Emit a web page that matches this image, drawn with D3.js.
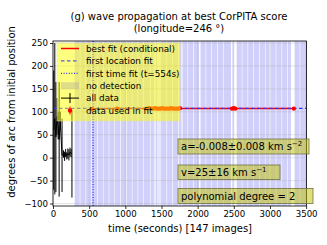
<!DOCTYPE html>
<html><head><meta charset="utf-8">
<script src="https://cdn.jsdelivr.net/npm/d3@7"></script>
<style>body{margin:0;background:#fff}svg{display:block}text{font-family:"DejaVu Sans",sans-serif}</style>
</head><body><svg id="c" width="327" height="245"></svg>
<script>
// ---- data ----
const xTicks = [0, 500, 1000, 1500, 2000, 2500, 3000, 3500];
const yTicks = [-100, -50, 0, 50, 100, 150, 200, 250];
// all data (black error bars)
const allTimes  = [10, 25, 40, 55, 70, 85, 100, 125, 145, 160, 175, 190, 205, 220, 235, 250, 262];
const allValues = [60, 85, 45, 90, 70, 40, 80, 5, 8, 3, 10, 4, 9, 6, 12, 10, 8];
const allErrors = [130, 165, 120, 40, 30, 125, 20, 80, 8, 10, 9, 8, 11, 12, 10, 9, 95];
// data used in fit (red)
const fitTimes  = [540, 890, 1310, 1335, 1360, 1385, 1410, 1435, 1460, 1485, 1510, 1535, 1560, 1585, 1610, 1635, 1660, 1685, 1710, 1735, 1755, 2475, 2500, 2520, 3330];
const fitValues = [106, 107, 107, 108, 107, 107, 108, 107, 107, 107, 108, 107, 107, 107, 107, 108, 107, 107, 107, 107, 108, 107, 108, 107, 107];
const fitErrors = [3, 3, 3, 3, 3, 3, 3, 3, 3, 3, 3, 3, 3, 3, 3, 3, 3, 3, 3, 3, 3, 3, 3, 3, 3];
// best fit curve
const curveTimes  = [540, 1000, 1500, 2000, 2500, 3000, 3330];
const curveValues = [106.6, 107.0, 107.3, 107.4, 107.4, 107.2, 107.0];
// first location fit, first time fit
const firstLocation = 107.5;
const firstTime = 554;
// no-detection intervals (seconds)
const noDetection = [[300,370],[378,450],[458,530],[538,610],[618,690],[698,770],[778,850],[858,930],[938,1010],[1018,1090],[1098,1170],[1178,1250],[1258,1340],[1355,1395],[1420,1445],[1500,1570],[1578,1650],[1658,1730],[1738,1770],[1790,1860],[1868,1940],[1948,2020],[2040,2110],[2118,2190],[2198,2270],[2278,2350],[2358,2460],[2480,2498],[2540,2610],[2618,2690],[2698,2770],[2778,2850],[2858,2930],[2938,2990],[3010,3080],[3088,3160],[3168,3240],[3248,3290],[3340,3410],[3418,3510]];
// lighter no-detection intervals (single coverage)
const noDetectionLight = [[1340,1355],[1395,1420],[1445,1500],[1770,1790],[2990,3010]];
const legendLabels = ["best fit (conditional)", "first location fit", "first time fit (t=554s)", "no detection", "all data", "data used in fit"];
const titleLines = ["(g) wave propagation at best CorPITA score", "(longitude=246 °)"];

// ---- layout ----
const svg = d3.select("#c");
const L = 53, R = 306.5, T = 41, B = 206;
const x = d3.scaleLinear().domain([0, 3505]).range([L, R]);
const y = d3.scaleLinear().domain([-105.4, 254.4]).range([B, T]);

// bands
svg.append("g").selectAll("rect").data(noDetection).join("rect")
  .attr("x", d => x(d[0])).attr("width", d => x(d[1]) - x(d[0]))
  .attr("y", T).attr("height", B - T)
  .attr("fill", "#d0d0fa");
svg.append("g").selectAll("rect").data(noDetectionLight).join("rect")
  .attr("x", d => x(d[0])).attr("width", d => x(d[1]) - x(d[0]))
  .attr("y", T).attr("height", B - T)
  .attr("fill", "#e8e8fc");

// grid
const grid = svg.append("g").attr("stroke", "#b0b0b0").attr("stroke-opacity", 0.45).attr("stroke-width", 0.8);
grid.selectAll(".gx").data(xTicks).join("line").attr("x1", d => x(d)).attr("x2", d => x(d)).attr("y1", T).attr("y2", B);
grid.selectAll(".gy").data(yTicks).join("line").attr("y1", d => y(d)).attr("y2", d => y(d)).attr("x1", L).attr("x2", R);

// first time fit
svg.append("line").attr("x1", x(firstTime)).attr("x2", x(firstTime)).attr("y1", T).attr("y2", B)
  .attr("stroke", "#0000ff").attr("stroke-width", 1).attr("stroke-dasharray", "1,1.6");

// all data black
const gAll = svg.append("g").attr("stroke", "#000").attr("stroke-width", 1);
gAll.selectAll("line").data(allTimes).join("line")
  .attr("x1", d => x(d)).attr("x2", d => x(d))
  .attr("y1", (d, i) => y(allValues[i] - allErrors[i])).attr("y2", (d, i) => y(allValues[i] + allErrors[i]));
gAll.append("path").attr("fill", "none")
  .attr("d", d3.line().x(d => x(d)).y((d, i) => y(allValues[i]))(allTimes));

// best fit curve
svg.append("path").attr("fill", "none").attr("stroke", "#ff0000").attr("stroke-width", 1.5)
  .attr("d", d3.line().x(d => x(d)).y((d, i) => y(curveValues[i]))(curveTimes));
// first location fit
svg.append("line").attr("x1", L).attr("x2", R).attr("y1", y(firstLocation)).attr("y2", y(firstLocation))
  .attr("stroke", "#3030ff").attr("stroke-width", 1.2).attr("stroke-dasharray", "3.5,2.5");

// fit points
const gFit = svg.append("g");
gFit.selectAll("line").data(fitTimes).join("line")
  .attr("x1", d => x(d)).attr("x2", d => x(d))
  .attr("y1", (d, i) => y(fitValues[i] - fitErrors[i])).attr("y2", (d, i) => y(fitValues[i] + fitErrors[i]))
  .attr("stroke", "#ff0000").attr("stroke-width", 1);
gFit.selectAll("circle").data(fitTimes).join("circle")
  .attr("cx", d => x(d)).attr("cy", (d, i) => y(fitValues[i])).attr("r", 2.2).attr("fill", "#ff0000");

// legend
const lg = svg.append("g");
lg.append("rect").attr("x", 57).attr("y", 43).attr("width", 123).attr("height", 78)
  .attr("fill", "#ffff00").attr("fill-opacity", 0.5).attr("stroke", "#e0e0a0").attr("stroke-width", 0.5);
const rowY = i => 48.5 + i * 12.4;
const hx0 = 61, hx1 = 79;
lg.append("line").attr("x1", hx0).attr("x2", hx1).attr("y1", rowY(0)).attr("y2", rowY(0)).attr("stroke", "#ff0000").attr("stroke-width", 1.5);
lg.append("line").attr("x1", hx0).attr("x2", hx1).attr("y1", rowY(1)).attr("y2", rowY(1)).attr("stroke", "#5a5ae0").attr("stroke-width", 1.4).attr("stroke-dasharray", "3.5,2.5");
lg.append("line").attr("x1", hx0).attr("x2", hx1).attr("y1", rowY(2)).attr("y2", rowY(2)).attr("stroke", "#0000ff").attr("stroke-width", 1).attr("stroke-dasharray", "1,1.6");
lg.append("rect").attr("x", hx0).attr("y", rowY(3) - 3.5).attr("width", hx1 - hx0).attr("height", 7).attr("fill", "#a0a0a0").attr("fill-opacity", 0.35);
lg.append("line").attr("x1", hx0).attr("x2", hx1).attr("y1", rowY(4)).attr("y2", rowY(4)).attr("stroke", "#000").attr("stroke-width", 1);
lg.append("line").attr("x1", (hx0 + hx1) / 2).attr("x2", (hx0 + hx1) / 2).attr("y1", rowY(4) - 5).attr("y2", rowY(4) + 5).attr("stroke", "#000").attr("stroke-width", 1);
lg.append("line").attr("x1", (hx0 + hx1) / 2).attr("x2", (hx0 + hx1) / 2).attr("y1", rowY(5) - 4).attr("y2", rowY(5) + 4).attr("stroke", "#ff0000").attr("stroke-width", 1);
lg.append("circle").attr("cx", (hx0 + hx1) / 2).attr("cy", rowY(5)).attr("r", 2.2).attr("fill", "#ff0000");
lg.selectAll("text").data(legendLabels).join("text")
  .attr("x", 86).attr("y", (d, i) => rowY(i) + 3.3).attr("font-size", 8.8).attr("fill", "#000").text(d => d);

// axes
const ax = svg.append("g").attr("transform", `translate(0,${B})`)
  .call(d3.axisBottom(x).tickValues(xTicks).tickSize(3).tickPadding(2).tickFormat(d3.format("d")));
const ay = svg.append("g").attr("transform", `translate(${L},0)`)
  .call(d3.axisLeft(y).tickValues(yTicks).tickSize(3).tickPadding(2).tickFormat(d => d < 0 ? "\u2212" + Math.abs(d) : d));
[ax, ay].forEach(a => { a.select(".domain").remove(); a.selectAll("text").attr("font-size", 8.6).attr("font-family", "DejaVu Sans").attr("fill", "#000"); a.selectAll("line").attr("stroke", "#000").attr("stroke-width", 0.8); });
svg.append("rect").attr("x", L).attr("y", T).attr("width", R - L).attr("height", B - T)
  .attr("fill", "none").attr("stroke", "#000").attr("stroke-width", 0.8);

// text boxes
function box(bx, by, bw, bh, parts) {
  svg.append("rect").attr("x", bx).attr("y", by).attr("width", bw).attr("height", bh)
    .attr("fill", "#bfbf00").attr("fill-opacity", 0.5).attr("stroke", "#707040").attr("stroke-width", 0.8);
  const t = svg.append("text").attr("x", bx + 3).attr("y", by + bh - 4).attr("font-size", 10).attr("fill", "#000");
  parts.forEach(p => {
    const s = t.append("tspan").text(p.t);
    if (p.sup) s.attr("font-size", 7).attr("dy", -4);
  });
}
box(178, 139, 131, 15, [{t: "a=-0.008\u00b10.008 km s"}, {t: "\u22122", sup: true}]);
box(178, 165, 102, 14.5, [{t: "v=25\u00b116 km s"}, {t: "\u22121", sup: true}]);
box(178, 188.5, 135, 15, [{t: "polynomial degree = 2"}]);

// titles and labels
svg.selectAll(".title").data(titleLines).join("text")
  .attr("x", 179).attr("y", (d, i) => 19.5 + i * 12.5).attr("text-anchor", "middle").attr("font-size", 10).attr("fill", "#000").text(d => d);
svg.append("text").attr("x", 180).attr("y", 232).attr("text-anchor", "middle").attr("font-size", 10).text("time (seconds) [147 images]");
svg.append("text").attr("transform", "translate(15,112) rotate(-90)").attr("text-anchor", "middle").attr("font-size", 10).text("degrees of arc from initial position");
</script></body></html>
